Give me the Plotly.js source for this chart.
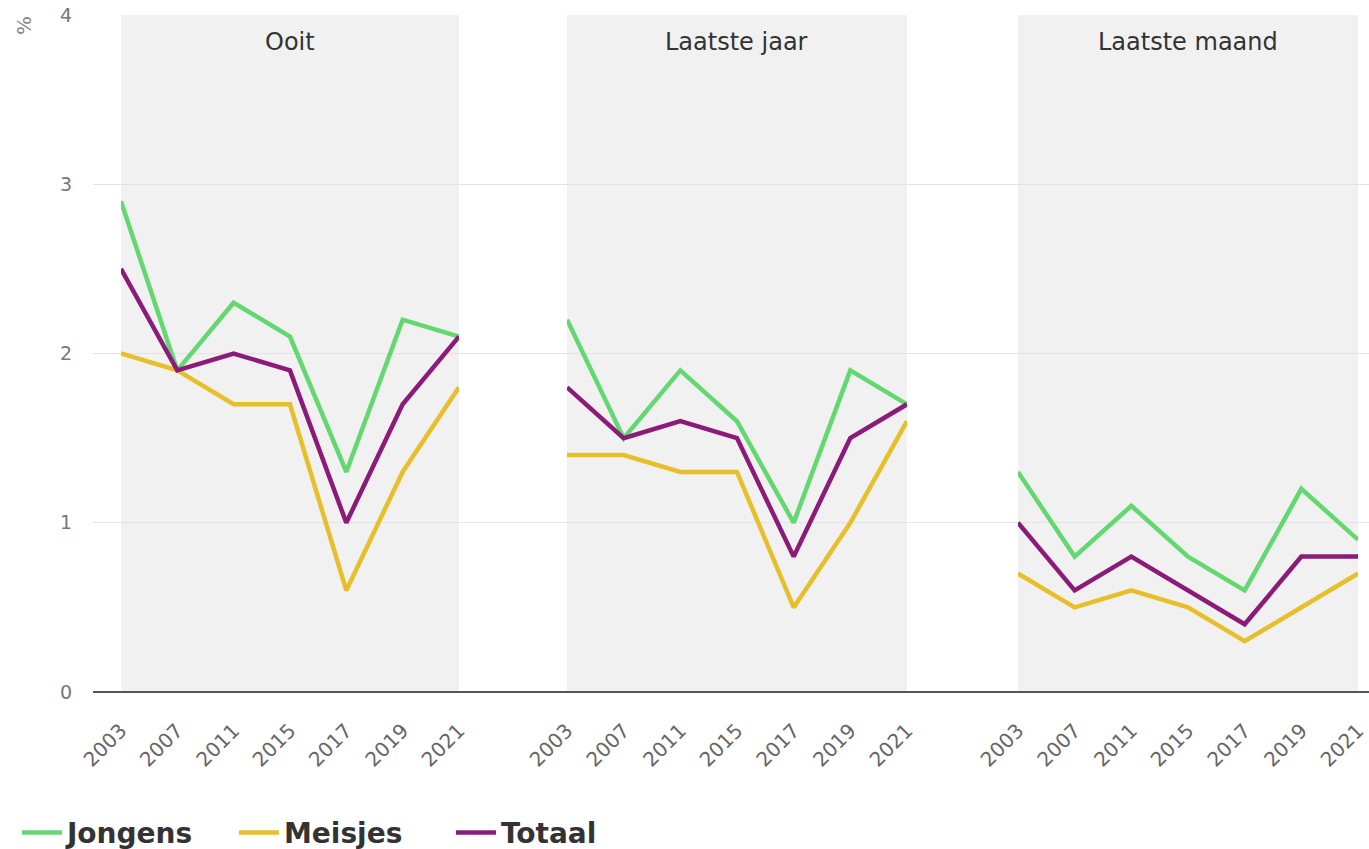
<!DOCTYPE html>
<html>
<head>
<meta charset="utf-8">
<script src="https://cdn.plot.ly/plotly-3.0.1.min.js"></script>
<style>html,body{margin:0;padding:0;background:#fff;}#chart{width:1369px;height:849px;}</style>
</head>
<body>
<div id="chart"></div>
<script>
const years = ['2003','2007','2011','2015','2017','2019','2021'];
const panels = ['Ooit','Laatste jaar','Laatste maand'];
const seriesNames = ['Jongens','Meisjes','Totaal'];

const jongensOoit   = [2.9, 1.9, 2.3, 2.1, 1.3, 2.2, 2.1];
const meisjesOoit   = [2.0, 1.9, 1.7, 1.7, 0.6, 1.3, 1.8];
const totaalOoit    = [2.5, 1.9, 2.0, 1.9, 1.0, 1.7, 2.1];

const jongensJaar   = [2.2, 1.5, 1.9, 1.6, 1.0, 1.9, 1.7];
const meisjesJaar   = [1.4, 1.4, 1.3, 1.3, 0.5, 1.0, 1.6];
const totaalJaar    = [1.8, 1.5, 1.6, 1.5, 0.8, 1.5, 1.7];

const jongensMaand  = [1.3, 0.8, 1.1, 0.8, 0.6, 1.2, 0.9];
const meisjesMaand  = [0.7, 0.5, 0.6, 0.5, 0.3, 0.5, 0.7];
const totaalMaand   = [1.0, 0.6, 0.8, 0.6, 0.4, 0.8, 0.8];

const yTicks = [0, 1, 2, 3, 4];

const panelData = [
  [jongensOoit, meisjesOoit, totaalOoit],
  [jongensJaar, meisjesJaar, totaalJaar],
  [jongensMaand, meisjesMaand, totaalMaand]
];
const colors = ['#64d870', '#e6bf2b', '#8c1a78'];
const xAxisIds = ['x2', 'x3', 'x4'];
const domains = [[0.0219, 0.2868], [0.3715, 0.6379], [0.7249, 0.9914]];

// empty carrier trace so the full-width base subplot (gridlines, zero line) exists
const traces = [{
  type: 'scatter', mode: 'lines', x: [], y: [], xaxis: 'x', yaxis: 'y',
  showlegend: false, hoverinfo: 'skip'
}];
panelData.forEach((group, p) => {
  group.forEach((vals, s) => {
    traces.push({
      type: 'scatter', mode: 'lines',
      x: years, y: vals,
      xaxis: xAxisIds[p], yaxis: 'y',
      name: seriesNames[s], legendgroup: seriesNames[s],
      showlegend: p === 0,
      line: {color: colors[s], width: 4.5},
      hoverinfo: 'x+y+name'
    });
  });
});

const font = 'DejaVu Sans, Liberation Sans, Arial, sans-serif';
const layout = {
  width: 1369, height: 849, autosize: false,
  margin: {l: 93, r: 0, t: 15, b: 157, pad: 0, autoexpand: false},
  paper_bgcolor: '#ffffff',
  plot_bgcolor: 'rgba(0,0,0,0)',
  font: {family: font, color: '#555'},
  showlegend: true,
  legend: {
    orientation: 'h', x: -0.0596, xanchor: 'left', y: -0.208, yanchor: 'middle',
    font: {family: 'DejaVu Sans, sans-serif', size: 28, color: '#333', weight: 'bold'},
    traceorder: 'normal', itemwidth: 40, entrywidth: 162, entrywidthmode: 'pixels'
  },
  xaxis: {domain: [0, 1], range: [0, 1], visible: false, fixedrange: true, anchor: 'y'},
  yaxis: {
    domain: [0, 1], range: [0, 4], tickvals: yTicks, anchor: 'x',
    showgrid: true, gridcolor: '#e3e3e3', gridwidth: 1,
    zeroline: true, zerolinecolor: '#555', zerolinewidth: 2,
    showline: false, ticks: 'outside', ticklen: 16, tickcolor: 'rgba(0,0,0,0)',
    tickfont: {family: font, size: 19, color: '#777'}, fixedrange: true
  },
  shapes: [],
  annotations: [
    {text: '%', xref: 'paper', yref: 'paper', x: -0.0541, y: 0.985, xanchor: 'center', yanchor: 'middle',
     textangle: -90, showarrow: false, font: {family: font, size: 20, color: '#888'}}
  ]
};

xAxisIds.forEach((id, p) => {
  const key = 'xaxis' + id.slice(1);
  layout[key] = {
    domain: domains[p], anchor: 'y', type: 'category',
    categoryorder: 'array', categoryarray: years,
    range: [0, years.length - 1],
    showgrid: false, zeroline: false, showline: false,
    tickangle: -45, ticks: 'outside', ticklen: 18, tickcolor: 'rgba(0,0,0,0)',
    tickfont: {family: font, size: 20, color: '#666'}, fixedrange: true
  };
  layout.shapes.push({
    type: 'rect', xref: id + ' domain', yref: 'y domain',
    x0: 0, x1: 1, y0: 0, y1: 1, layer: 'below',
    fillcolor: '#f1f1f1', line: {width: 0}
  });
  layout.annotations.push({
    text: panels[p], xref: id + ' domain', yref: 'paper', x: 0.5, y: 0.96,
    xanchor: 'center', yanchor: 'middle', showarrow: false,
    font: {family: font, size: 24, color: '#333'}
  });
});

Plotly.newPlot('chart', traces, layout, {displayModeBar: false, staticPlot: true});
</script>
</body>
</html>
